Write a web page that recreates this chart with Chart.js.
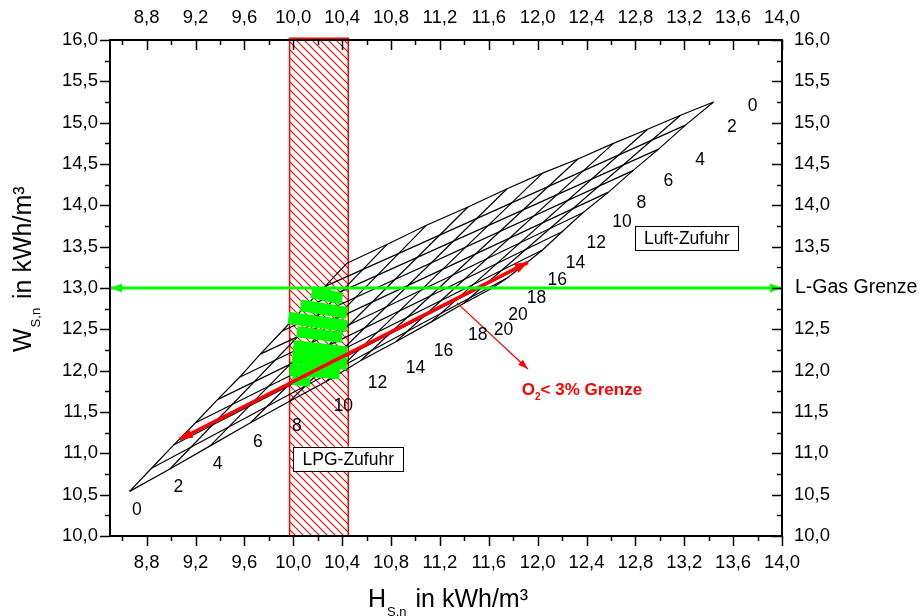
<!DOCTYPE html>
<html><head><meta charset="utf-8">
<script src="https://cdn.jsdelivr.net/npm/chart.js@4"></script>
<style>html,body{margin:0;padding:0;background:#fff}</style>
</head><body>
<canvas id="c" width="923" height="616"></canvas>
<script>
// ---------- axis ticks ----------
const xTicks = [8.8,9.2,9.6,10.0,10.4,10.8,11.2,11.6,12.0,12.4,12.8,13.2,13.6,14.0];
const yTicks = [10.0,10.5,11.0,11.5,12.0,12.5,13.0,13.5,14.0,14.5,15.0,15.5,16.0];
const xRange = [8.5, 14.0];
const yRange = [10.0, 16.0];

// ---------- mesh edges (H_S,n , W_S,n) ----------
const steps = ['0','2','4','6','8','10','12','14','16','18','20'];
// air 0 %, LPG 0..20 %
const air0_H  = [10.44,10.77,11.09,11.43,11.75,12.04,12.33,12.62,12.90,13.17,13.44];
const air0_W  = [13.30,13.53,13.76,13.98,14.20,14.39,14.56,14.75,14.92,15.09,15.25];
// air 20 %, LPG 0..20 %
const air20_H = [8.66,8.99,9.32,9.65,9.97,10.27,10.55,10.84,11.13,11.39,11.63];
const air20_W = [10.54,10.81,11.09,11.37,11.63,11.87,12.12,12.35,12.59,12.81,13.00];
// LPG 0 %, air 0..20 %
const lpg0_H  = [10.44,10.26,10.08,9.91,9.73,9.56,9.38,9.20,9.02,8.84,8.66];
const lpg0_W  = [13.30,13.02,12.75,12.48,12.20,11.92,11.65,11.37,11.10,10.82,10.54];
// LPG 20 %, air 0..20 %
const lpg20_H = [13.44,13.21,12.99,12.78,12.58,12.37,12.20,12.04,11.88,11.75,11.63];
const lpg20_W = [15.25,14.97,14.68,14.42,14.16,13.91,13.68,13.46,13.27,13.12,13.00];

// label anchor positions for the step numbers
const lpgLabel_H  = [8.72,9.06,9.38,9.71,10.03,10.41,10.69,11.00,11.23,11.51,11.72];
const lpgLabel_W  = [10.31,10.59,10.87,11.14,11.33,11.57,11.85,12.03,12.24,12.43,12.49];
const luftLabel_H = [13.76,13.59,13.33,13.07,12.85,12.69,12.48,12.31,12.16,11.99,11.84];
const luftLabel_W = [15.20,14.95,14.55,14.29,14.03,13.80,13.54,13.30,13.10,12.88,12.67];

// LPG band
const band_H = [9.97, 10.45];
const band_W = [10.0, 16.02];

// green measurement bars
const bar_H1 = [10.15,10.06,9.96,10.03,10.00,9.99,9.97,9.99];
const bar_W1 = [12.95,12.79,12.64,12.47,12.30,12.16,12.01,11.88];
const bar_H2 = [10.40,10.44,10.44,10.40,10.44,10.44,10.38,10.14];
const bar_W2 = [12.87,12.70,12.54,12.40,12.22,12.08,11.97,11.86];
const barWidths = [12,12,12,11,12,12,12,9];

// limit lines
const lgas_H = [8.5, 14.0], lgas_W = [13.0, 13.0];
const redArrow_H = [9.07, 11.92], redArrow_W = [11.17, 13.31];
const o2Arrow_H = [11.34, 11.92], o2Arrow_W = [12.82, 12.02];
const o2Label = [11.87, 11.79];
const lpgBox = [10.00, 10.90, 11.08, 10.79];   // H1,H2,W1,W2
const luftBox = [12.80, 13.64, 13.75, 13.46];

const FONT = '"Liberation Sans", Arial, sans-serif';
const ctx0 = document.getElementById('c').getContext('2d');

function hatchPattern(){
  const c = document.createElement('canvas'); c.width = 8; c.height = 8;
  const g = c.getContext('2d');
  g.fillStyle = '#fff'; g.fillRect(0,0,8,8);
  g.strokeStyle = '#ff0000'; g.lineWidth = 1.1;
  g.beginPath();
  g.moveTo(-2,-2); g.lineTo(10,10);
  g.moveTo(-2,6); g.lineTo(2,10);
  g.moveTo(6,-2); g.lineTo(10,2);
  g.stroke();
  return ctx0.createPattern(c,'repeat');
}

function pts(xs, ys){ return xs.map((v,i)=>({x:v, y:ys[i]})); }

const datasets = [];
// hatched band
datasets.push({data: pts([band_H[0],band_H[0],band_H[1],band_H[1]],[band_W[0],band_W[1],band_W[1],band_W[0]]),
  borderColor:'#ff0000', borderWidth:1.5, backgroundColor: hatchPattern(), fill:{value:10}, clip:false, order:10});
// mesh
const meshStyle = {borderColor:'#000', borderWidth:1.2, fill:false, order:6};
for (let k=0;k<steps.length;k++){
  let hx, wy;
  if (k===0){ hx=lpg0_H; wy=lpg0_W; }
  else if (k===steps.length-1){ hx=lpg20_H; wy=lpg20_W; }
  else { hx=[air0_H[k],air20_H[k]]; wy=[air0_W[k],air20_W[k]]; }
  datasets.push(Object.assign({data:pts(hx,wy)}, meshStyle));
}
for (let j=0;j<steps.length;j++){
  let hx, wy;
  if (j===0){ hx=air0_H; wy=air0_W; }
  else if (j===steps.length-1){ hx=air20_H; wy=air20_W; }
  else { hx=[lpg0_H[j],lpg20_H[j]]; wy=[lpg0_W[j],lpg20_W[j]]; }
  datasets.push(Object.assign({data:pts(hx,wy)}, meshStyle));
}
// green bars
for (let i=0;i<bar_H1.length;i++){
  datasets.push({data:pts([bar_H1[i],bar_H2[i]],[bar_W1[i],bar_W2[i]]), borderColor:'#00ff00', borderWidth:barWidths[i], fill:false, order:4});
}
// arrows
datasets.push({data:pts(redArrow_H,redArrow_W), borderColor:'#ff0000', borderWidth:3.5, fill:false, order:2, arrow:'both', head:[13,5]});
datasets.push({data:pts(o2Arrow_H,o2Arrow_W), borderColor:'#ff0000', borderWidth:1.3, fill:false, order:2, arrow:'end', head:[10,3.5]});
datasets.push({data:pts(lgas_H,lgas_W), borderColor:'#00ff00', borderWidth:3, fill:false, order:1, arrow:'both', head:[12,4.5], clip:false});

function head(ctx,x0,y0,x1,y1,len,hw,color){
  const a = Math.atan2(y1-y0,x1-x0), c=Math.cos(a), s=Math.sin(a);
  ctx.fillStyle=color; ctx.beginPath();
  ctx.moveTo(x1,y1);
  ctx.lineTo(x1-len*c+hw*s, y1-len*s-hw*c);
  ctx.lineTo(x1-len*c-hw*s, y1-len*s+hw*c);
  ctx.closePath(); ctx.fill();
}

const fmt = v => Number(v).toFixed(1).replace('.',',');

const overlay = {
  id:'overlay',
  afterDatasetsDraw(chart){
    const ctx = chart.ctx, xs = chart.scales.x, ys = chart.scales.y;
    ctx.save();
    chart.data.datasets.forEach((ds,i)=>{
      if(!ds.arrow) return;
      const d = chart.getDatasetMeta(i).data;
      const a=d[0], b=d[d.length-1];
      head(ctx,a.x,a.y,b.x,b.y,ds.head[0],ds.head[1],ds.borderColor);
      if(ds.arrow==='both') head(ctx,b.x,b.y,a.x,a.y,ds.head[0],ds.head[1],ds.borderColor);
    });
    // step numbers
    ctx.fillStyle='#000'; ctx.font='17.5px '+FONT; ctx.textAlign='center'; ctx.textBaseline='middle';
    steps.forEach((t,i)=>{
      ctx.fillText(t, xs.getPixelForValue(lpgLabel_H[i]), ys.getPixelForValue(lpgLabel_W[i]));
      ctx.fillText(t, xs.getPixelForValue(luftLabel_H[i]), ys.getPixelForValue(luftLabel_W[i]));
    });
    // boxes
    function box(b, text){
      const x1=xs.getPixelForValue(b[0]), x2=xs.getPixelForValue(b[1]);
      const y1=ys.getPixelForValue(b[2]), y2=ys.getPixelForValue(b[3]);
      ctx.fillStyle='#fff'; ctx.fillRect(x1,y1,x2-x1,y2-y1);
      ctx.strokeStyle='#000'; ctx.lineWidth=1; ctx.strokeRect(Math.round(x1)+0.5,Math.round(y1)+0.5,Math.round(x2-x1),Math.round(y2-y1));
      ctx.fillStyle='#000'; ctx.font='17.5px '+FONT; ctx.textAlign='center'; ctx.textBaseline='middle';
      ctx.fillText(text,(x1+x2)/2,(y1+y2)/2+1);
    }
    box(lpgBox,'LPG-Zufuhr');
    box(luftBox,'Luft-Zufuhr');
    // O2 label
    let ox = xs.getPixelForValue(o2Label[0]), oy = ys.getPixelForValue(o2Label[1]) + 7;
    ctx.fillStyle='#ff0000'; ctx.textAlign='left'; ctx.textBaseline='alphabetic';
    ctx.font='bold 17px '+FONT; ctx.fillText('O',ox,oy); ox += ctx.measureText('O').width;
    ctx.font='bold 10px '+FONT; ctx.fillText('2',ox,oy+5); ox += ctx.measureText('2').width;
    ctx.font='bold 17px '+FONT; ctx.fillText('< 3% Grenze',ox,oy);
    ctx.restore();
  },
  afterDraw(chart){
    const ctx = chart.ctx, a = chart.chartArea, xs = chart.scales.x, ys = chart.scales.y;
    ctx.save();
    ctx.strokeStyle='#000';
    // ticks
    ctx.lineWidth=1.5;
    ctx.beginPath();
    xTicks.forEach(v=>{ const p=Math.round(xs.getPixelForValue(v))+0.5;
      ctx.moveTo(p,a.bottom); ctx.lineTo(p,a.bottom+10);
      ctx.moveTo(p,a.top); ctx.lineTo(p,a.top+10); });
    xTicks.map(v=>v-0.2).forEach(v=>{ if(v<xRange[0]) return; const p=Math.round(xs.getPixelForValue(v))+0.5;
      ctx.moveTo(p,a.bottom); ctx.lineTo(p,a.bottom+5);
      ctx.moveTo(p,a.top); ctx.lineTo(p,a.top+5); });
    yTicks.forEach(v=>{ const p=Math.round(ys.getPixelForValue(v))+0.5;
      ctx.moveTo(a.left,p); ctx.lineTo(a.left-10,p);
      ctx.moveTo(a.right,p); ctx.lineTo(a.right-10,p); });
    yTicks.slice(1).map(v=>v-0.25).forEach(v=>{ const p=Math.round(ys.getPixelForValue(v))+0.5;
      ctx.moveTo(a.left,p); ctx.lineTo(a.left-5,p);
      ctx.moveTo(a.right,p); ctx.lineTo(a.right-5,p); });
    ctx.stroke();
    // frame
    ctx.lineWidth=2;
    ctx.strokeRect(a.left,a.top,a.right-a.left,a.bottom-a.top);
    // L-Gas label
    ctx.fillStyle='#000'; ctx.font='19.5px '+FONT; ctx.textAlign='left'; ctx.textBaseline='middle';
    ctx.fillText('L-Gas Grenze', a.right+13, ys.getPixelForValue(13.0));
    // x title
    ctx.textBaseline='alphabetic';
    let tx = 368, ty = 607;
    ctx.font='25px '+FONT; ctx.fillText('H',tx,ty); tx += ctx.measureText('H').width;
    ctx.font='13px '+FONT; ctx.fillText('S,n',tx+1,ty+9); tx += ctx.measureText('S,n').width+3;
    ctx.font='25px '+FONT; ctx.fillText(' in kWh/m³',tx,ty);
    // y title
    ctx.translate(31, 352); ctx.rotate(-Math.PI/2);
    tx = 0;
    ctx.font='25px '+FONT; ctx.fillText('W',tx,0); tx += ctx.measureText('W').width;
    ctx.font='13px '+FONT; ctx.fillText('S,n',tx+1,9); tx += ctx.measureText('S,n').width+3;
    ctx.font='25px '+FONT; ctx.fillText(' in kWh/m³',tx,0);
    ctx.restore();
  }
};

const tickFont = {family:FONT, size:18.5};
function axis(pos, range, ticks, pad, fit, skip){
  return {type:'linear', position:pos, min:range[0], max:range[1],
    grid:{display:false, drawTicks:false}, border:{display:false},
    ticks:{font:tickFont, color:'#000', padding:pad, maxRotation:0, autoSkip:false,
      callback:v=> (skip!==undefined && Math.abs(v-skip)<1e-6) ? '' : fmt(v)},
    afterBuildTicks:s=>{ s.ticks = ticks.map(v=>({value:v})); },
    afterFit:fit};
}

new Chart(document.getElementById('c'), {
  type:'line',
  data:{datasets},
  options:{
    responsive:false, animation:false, devicePixelRatio:1,
    layout:{padding:0},
    plugins:{legend:{display:false}, tooltip:{enabled:false}},
    elements:{point:{radius:0, hoverRadius:0}, line:{tension:0}},
    events:[],
    scales:{
      x: axis('bottom', xRange, xTicks, 16, s=>{s.height=80;}),
      x2: axis('top', xRange, xTicks, 11, s=>{s.height=40;}),
      y: axis('left', yRange, yTicks, 12, s=>{s.width=110;}),
      y2: axis('right', yRange, yTicks, 12, s=>{s.width=141;}, 13.0)
    }
  },
  plugins:[overlay]
});
</script>
</body></html>
